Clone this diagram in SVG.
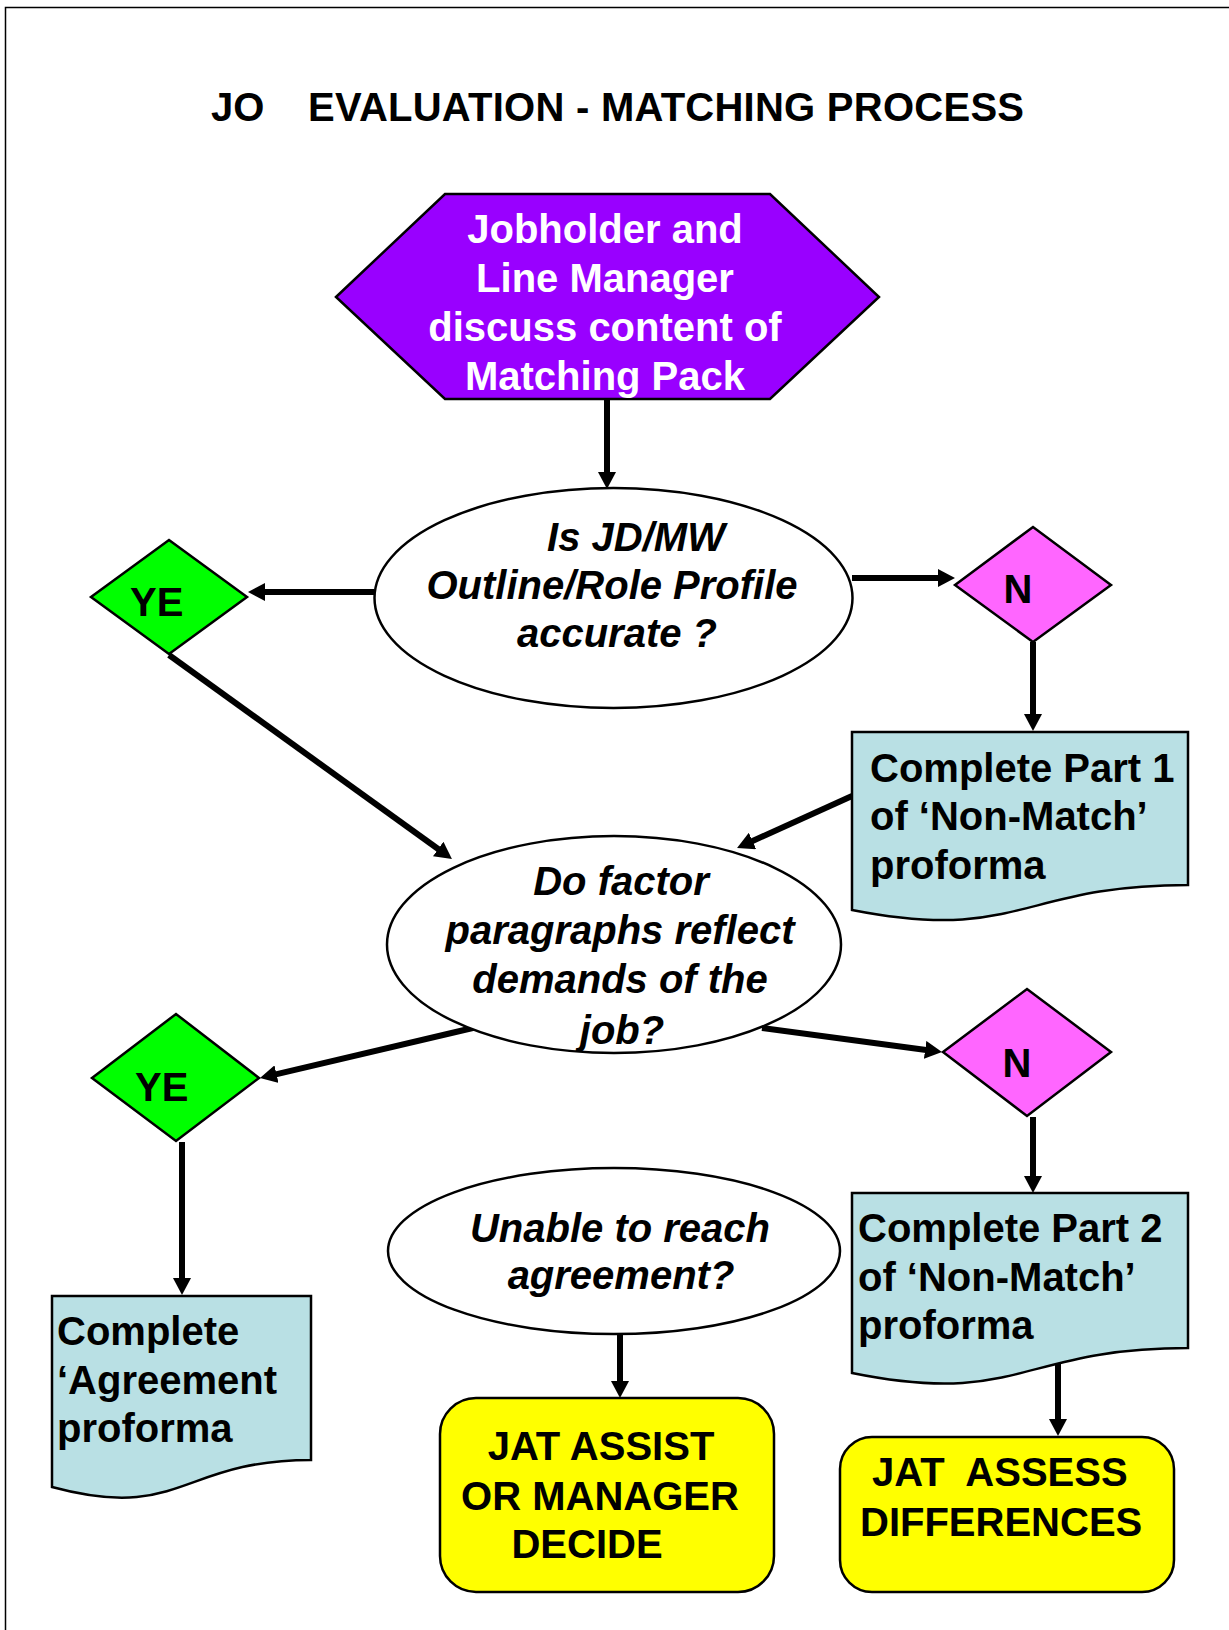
<svg xmlns="http://www.w3.org/2000/svg" width="1229" height="1630" viewBox="0 0 1229 1630">
<style>
text{font-family:"Liberation Sans",Arial,sans-serif;font-weight:bold;font-size:40px;fill:#000}
.it{font-style:italic}
.w{fill:#fff}
.mid{text-anchor:middle}
.shape{stroke:#000;stroke-width:2.5}
.conn line{stroke:#000;stroke-width:6;marker-end:url(#ah)}
</style>
<defs>
<marker id="ah" markerUnits="userSpaceOnUse" markerWidth="18" markerHeight="18" refX="3" refY="9" orient="auto" viewBox="0 0 18 18">
<path d="M0,0 L17,9 L0,18 z" fill="#000"/>
</marker>
</defs>
<rect width="1229" height="1630" fill="#fff"/>
<path d="M5.5,1630 V7.5 H1229" fill="none" stroke="#000" stroke-width="1.5"/>
<text x="211" y="121">JO</text>
<text x="308" y="121" textLength="716">EVALUATION - MATCHING PROCESS</text>

<g id="connectors" class="conn">
<line x1="607" y1="399" x2="607" y2="475"/>
<line x1="374" y1="592" x2="262" y2="592"/>
<line x1="852" y1="578" x2="941" y2="578"/>
<line x1="1033" y1="642" x2="1033" y2="717"/>
<line x1="169" y1="655" x2="440.6" y2="850.8"/>
<line x1="852" y1="796" x2="749.8" y2="842.2"/>
<line x1="477" y1="1027" x2="273.6" y2="1074.8"/>
<line x1="762" y1="1028" x2="928.1" y2="1050.2"/>
<line x1="1033" y1="1117" x2="1033" y2="1179"/>
<line x1="182" y1="1142" x2="182" y2="1281"/>
<line x1="620" y1="1334" x2="620" y2="1384"/>
<line x1="1058" y1="1360" x2="1058" y2="1422"/>
</g>

<g id="start">
<polygon class="shape" points="336,297 445,194 770,194 879,297 770,399 445,399" fill="#9900FF"/>
<text class="w mid" x="605" y="243">Jobholder and</text>
<text class="w mid" x="605" y="292">Line Manager</text>
<text class="w mid" x="605" y="341">discuss content of</text>
<text class="w mid" x="605" y="390">Matching Pack</text>
</g>

<g id="q1">
<ellipse class="shape" cx="613.5" cy="598" rx="239" ry="110" fill="#fff"/>
<text class="it mid" x="636" y="551">Is JD/MW</text>
<text class="it mid" x="612" y="599">Outline/Role Profile</text>
<text class="it mid" x="617" y="647">accurate ?</text>
</g>

<g id="yes1">
<polygon class="shape" points="91,597 169,540 247,597 169,654" fill="#00FF00"/>
<text x="130" y="616">YE</text>
</g>

<g id="no1">
<polygon class="shape" points="955,585 1033,527 1111,585 1033,642" fill="#FF66FF"/>
<text class="mid" x="1018" y="603">N</text>
</g>

<g id="part1">
<path class="shape" d="M852,732 H1188 V885 C1020,885 1020,943 852,910 Z" fill="#B9E0E4"/>
<text x="870" y="782">Complete Part 1</text>
<text x="870" y="830">of ‘Non-Match’</text>
<text x="870" y="879">proforma</text>
</g>

<g id="q2">
<ellipse class="shape" cx="614" cy="944.5" rx="227" ry="108.5" fill="#fff"/>
<text class="it mid" x="621" y="895">Do factor</text>
<text class="it mid" x="620" y="944">paragraphs reflect</text>
<text class="it mid" x="620" y="993">demands of the</text>
<text class="it mid" x="622" y="1044">job?</text>
</g>

<g id="yes2">
<polygon class="shape" points="92,1078 176,1014 259,1078 176,1141" fill="#00FF00"/>
<text x="135" y="1101">YE</text>
</g>

<g id="no2">
<polygon class="shape" points="943,1052 1027,989 1111,1052 1027,1116" fill="#FF66FF"/>
<text class="mid" x="1017" y="1077">N</text>
</g>

<g id="part2">
<path class="shape" d="M852,1193 H1188 V1348 C1020,1348 1020,1407 852,1373 Z" fill="#B9E0E4"/>
<text x="858" y="1242">Complete Part 2</text>
<text x="858" y="1291">of ‘Non-Match’</text>
<text x="858" y="1339">proforma</text>
</g>

<g id="agreement">
<path class="shape" d="M52,1296 H311 V1460 C181,1460 181,1522 52,1487 Z" fill="#B9E0E4"/>
<text x="57" y="1345">Complete</text>
<text x="57" y="1394">‘Agreement</text>
<text x="57" y="1442">proforma</text>
</g>

<g id="q3">
<ellipse class="shape" cx="614" cy="1251" rx="226" ry="83" fill="#fff"/>
<text class="it mid" x="620" y="1242">Unable to reach</text>
<text class="it mid" x="621" y="1289">agreement?</text>
</g>

<g id="jat-assist">
<rect class="shape" x="440" y="1398" width="334" height="194" rx="36" fill="#FFFF00"/>
<text class="mid" x="601" y="1460">JAT ASSIST</text>
<text class="mid" x="600" y="1510">OR MANAGER</text>
<text class="mid" x="587" y="1558">DECIDE</text>
</g>

<g id="jat-assess">
<rect class="shape" x="840" y="1437" width="334" height="155" rx="32" fill="#FFFF00"/>
<text x="872" y="1486" xml:space="preserve">JAT  ASSESS</text>
<text x="860" y="1536">DIFFERENCES</text>
</g>
</svg>
